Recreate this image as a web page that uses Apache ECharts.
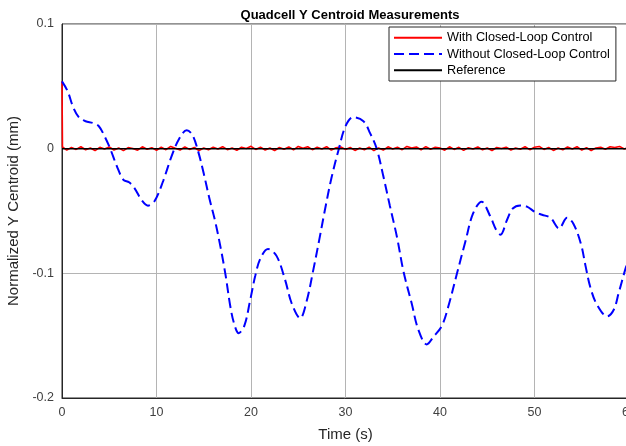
<!DOCTYPE html>
<html>
<head>
<meta charset="utf-8">
<script src="https://cdn.jsdelivr.net/npm/echarts@6/dist/echarts.min.js"></script>
<style>html,body{margin:0;padding:0;background:#fff}#c{width:626px;height:446px}</style>
</head>
<body>
<div id="c"></div>
<script>
var titleText = 'Quadcell Y Centroid Measurements';
var xName = 'Time (s)';
var yName = 'Normalized Y Centroid (mm)';
var seriesNames = ['With Closed-Loop Control', 'Without Closed-Loop Control', 'Reference'];
var xTicks = [0, 10, 20, 30, 40, 50, 60];
var yTicks = [-0.2, -0.1, 0, 0.1];

var withControl = [
[0,0.054],[0.05,0.0015],[0.5,-0.0012],[1,0.0009],[1.5,-0.0006],[2,0.0015],[2.5,-0.0009],[3,0.0005],[3.5,-0.0015],[4,0.0011],
[4.5,-0.0003],[5,0.0014],[5.5,-0.0011],[6,0.0006],[6.5,-0.0016],[7,0.0009],[7.5,0.0002],[8,-0.0012],[8.5,0.0015],[9,-0.0005],
[9.5,0.0008],[10,-0.0013],[10.5,0.0011],[11,-0.0008],[11.5,0.0018],[12,0.0003],[12.5,-0.0011],[13,0.0014],[13.5,-0.0006],[14,0.0009],
[14.5,-0.0015],[15,0.0005],[15.5,-0.0009],[16,0.0012],[16.5,-0.0003],[17,0.0016],[17.5,-0.0008],[18,0.0006],[18.5,-0.0013],[19,0.0011],
[19.5,0.0002],[20,0.0019],[20.5,-0.0006],[21,0.0012],[21.5,-0.0011],[22,0.0005],[22.5,-0.0015],[23,0.0009],[23.5,-0.0005],[24,0.0014],
[24.5,-0.0009],[25,0.0018],[25.5,0.0003],[26,0.0015],[26.5,-0.0008],[27,0.0011],[27.5,-0.0003],[28,0.0016],[28.5,-0.0012],[29,0.0008],
[29.5,0.0014],[30,-0.0006],[30.5,0.0009],[31,-0.0014],[31.5,0.0005],[32,-0.0009],[32.5,0.0012],[33,-0.0016],[33.5,0.0006],[34,-0.0011],
[34.5,0.0015],[35,-0.0003],[35.5,0.0011],[36,-0.0008],[36.5,0.0018],[37,0.0005],[37.5,0.0014],[38,-0.0009],[38.5,0.0016],[39,-0.0005],
[39.5,0.0012],[40,0.0006],[40.5,-0.0012],[41,0.0015],[41.5,-0.0006],[42,0.0011],[42.5,-0.0014],[43,0.0008],[43.5,-0.0003],[44,0.0014],
[44.5,-0.0009],[45,0.0005],[45.5,-0.0015],[46,0.0009],[46.5,0.0002],[47,0.0012],[47.5,-0.0011],[48,0.0006],[48.5,-0.0005],[49,0.0015],
[49.5,-0.0008],[50,0.0011],[50.5,0.0018],[51,-0.0006],[51.5,0.0009],[52,-0.0014],[52.5,0.0005],[53,-0.0009],[53.5,0.0014],[54,-0.0003],
[54.5,0.0016],[55,-0.0011],[55.5,0.0008],[56,-0.0015],[56.5,0.0006],[57,0.0012],[57.5,-0.0005],[58,0.0015],[58.5,0.0009],[59,0.0018],
[59.5,-0.0003],[60,0.0014]
];

var withoutControl = [
[0,0.054],[0.6,0.046],[1.2,0.033],[1.8,0.025],[2.5,0.022],[3.3,0.0205],[3.9,0.018],[4.5,0.010],[5.1,0.000],[5.8,-0.014],
[6.5,-0.025],[7.1,-0.027],[7.7,-0.032],[8.4,-0.041],[9.1,-0.0457],[9.8,-0.042],[10.7,-0.026],[11.6,-0.006],[12.4,0.008],[13.2,0.0148],
[13.8,0.011],[14.4,-0.002],[15.0,-0.020],[15.6,-0.040],[16.2,-0.058],[16.8,-0.080],[17.3,-0.101],[17.8,-0.126],[18.2,-0.140],[18.7,-0.148],
[19.3,-0.142],[19.9,-0.122],[20.45,-0.102],[21.0,-0.088],[21.8,-0.0805],[22.7,-0.086],[23.6,-0.105],[24.3,-0.124],[25.2,-0.136],[25.9,-0.122],
[26.6,-0.097],[27.2,-0.074],[27.8,-0.050],[28.5,-0.024],[29.3,0.000],[30.0,0.018],[30.8,0.0252],[31.9,0.022],[32.6,0.0125],[33.3,0.000],
[34.0,-0.022],[34.7,-0.046],[35.45,-0.071],[36.15,-0.099],[37.0,-0.124],[37.7,-0.145],[38.6,-0.157],[39.3,-0.151],[40.2,-0.142],[40.9,-0.126],
[41.8,-0.100],[42.7,-0.074],[43.5,-0.052],[44.4,-0.0425],[45.3,-0.054],[46.0,-0.066],[46.4,-0.069],[47.1,-0.057],[47.7,-0.048],[48.5,-0.0455],
[49.2,-0.0465],[50.1,-0.051],[50.8,-0.053],[51.7,-0.0555],[52.6,-0.064],[53.45,-0.0555],[54.1,-0.060],[54.9,-0.076],[55.4,-0.094],[55.9,-0.111],
[56.6,-0.125],[57.7,-0.1345],[58.4,-0.129],[58.9,-0.116],[59.6,-0.097],[60,-0.088]
];

var reference = [[0,0],[60,0]];

var chart = echarts.init(document.getElementById('c'), null, {renderer: 'canvas'});
var font = 'Liberation Sans, Arial, Helvetica, sans-serif';
chart.setOption({
  animation: false,
  backgroundColor: '#ffffff',
  title: {
    text: titleText,
    left: 345, top: 4, textAlign: 'center',
    textStyle: {fontFamily: font, fontSize: 13, fontWeight: 'bold', color: '#000'}
  },
  legend: {
    data: seriesNames,
    orient: 'vertical',
    left: 389, top: 27,
    itemWidth: 48, itemHeight: 14, itemGap: 3.2,
    padding: [4.3, 6, 4.3, 4],
    backgroundColor: '#ffffff',
    borderColor: '#262626', borderWidth: 1, borderRadius: 0,
    itemStyle: {opacity: 0},
    textStyle: {fontFamily: font, fontSize: 12.7, color: '#000'}
  },
  grid: {
    left: 62, top: 24, right: -3, bottom: 48,
    outerBoundsMode: 'none', containLabel: false,
    show: true, borderColor: '#262626', borderWidth: 1, backgroundColor: 'transparent'
  },
  xAxis: {
    type: 'value', min: xTicks[0], max: xTicks[xTicks.length - 1], interval: 10,
    name: xName, nameLocation: 'middle', nameGap: 29,
    nameTextStyle: {fontFamily: font, fontSize: 15, color: '#262626'},
    axisLine: {show: true, onZero: false, lineStyle: {color: '#262626', width: 1}},
    axisTick: {show: false},
    axisLabel: {fontFamily: font, fontSize: 12.5, color: '#404040', margin: 8, hideOverlap: false},
    splitLine: {show: true, lineStyle: {color: '#b4b4b4', width: 1}}
  },
  yAxis: {
    type: 'value', min: yTicks[0], max: yTicks[yTicks.length - 1], interval: 0.1,
    name: yName, nameLocation: 'middle', nameGap: 35,
    nameTextStyle: {fontFamily: font, fontSize: 15, color: '#262626'},
    axisLine: {show: true, onZero: false, lineStyle: {color: '#262626', width: 1}},
    axisTick: {show: false},
    axisLabel: {fontFamily: font, fontSize: 12.5, color: '#404040', margin: 8,
      formatter: function (v) { return String(Math.round(v * 10) / 10); }},
    splitLine: {show: true, lineStyle: {color: '#b4b4b4', width: 1}}
  },
  series: [
    {name: seriesNames[0], type: 'line', data: withControl, symbol: 'none', showSymbol: false,
     lineStyle: {color: '#ff0000', width: 1.6}, itemStyle: {color: '#ff0000'}, z: 2},
    {name: seriesNames[1], type: 'line', data: withoutControl, symbol: 'none', showSymbol: false, smooth: 0.35,
     lineStyle: {color: '#0000ff', width: 2, type: [10, 5]}, itemStyle: {color: '#0000ff'}, z: 3},
    {name: seriesNames[2], type: 'line', data: reference, symbol: 'none', showSymbol: false,
     lineStyle: {color: '#000000', width: 1.5}, itemStyle: {color: '#000000'}, z: 4}
  ]
});
</script>
</body>
</html>
